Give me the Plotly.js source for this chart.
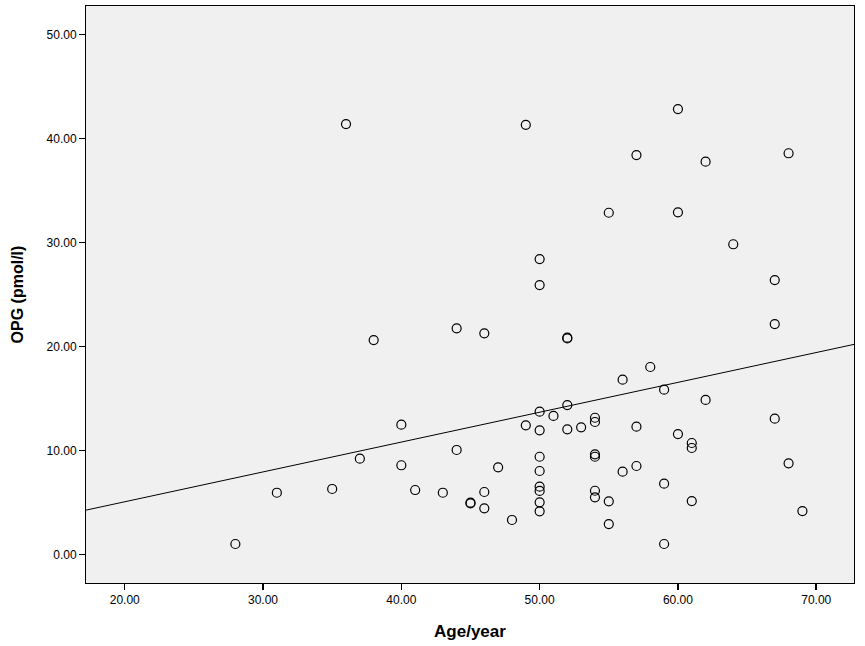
<!DOCTYPE html>
<html>
<head>
<meta charset="utf-8">
<script src="https://cdn.plot.ly/plotly-3.0.1.min.js"></script>
<style>html,body{margin:0;padding:0;background:#fff;}#chart{width:865px;height:646px;}</style>
</head>
<body>
<div id="chart"></div>
<script>
// Age (years)
const age = [28,31,35,36,37,38,40,40,41,43,44,44,45,45,46,46,46,47,48,49,49,
  50,50,50,50,50,50,50,50,50,50,51,52,52,52,52,53,54,54,54,54,54,54,
  55,55,55,56,56,57,57,57,58,59,59,59,60,60,60,61,61,61,62,62,64,67,67,67,68,68,69];
// OPG (pmol/l)
const opg = [1.03,5.96,6.32,41.41,9.23,20.64,12.5,8.6,6.22,5.96,21.77,10.07,4.94,5.0,21.29,6.03,4.46,8.4,3.34,41.33,12.44,
  28.43,25.93,13.75,11.96,9.42,8.05,6.54,6.13,5.04,4.17,13.34,20.87,20.8,14.39,12.06,12.25,13.17,12.76,9.65,9.42,6.15,5.52,
  32.88,5.13,2.95,16.83,7.98,38.43,12.31,8.53,18.05,15.87,6.83,1.03,42.85,32.92,11.6,10.74,10.26,5.16,37.79,14.88,29.85,26.41,22.18,13.08,38.6,8.79,4.2];
// Fit line
const fitIntercept = -0.65;
const fitSlope = 0.287;
const xTicks = [20,30,40,50,60,70];
const yTicks = [0,10,20,30,40,50];
const xRange = [17.2, 72.73];
const yRange = [-2.72, 52.76];

const fitX = [xRange[0], xRange[1]];
const fitY = fitX.map(v => fitIntercept + fitSlope * v);

const traces = [
  {x: fitX, y: fitY, mode: 'lines', type: 'scatter', line: {color: '#000', width: 1}, hoverinfo: 'skip'},
  {x: age, y: opg, mode: 'markers', type: 'scatter',
   marker: {symbol: 'circle-open', size: 9, color: '#000', line: {width: 1.2, color: '#000'}}}
];

const layout = {
  width: 865, height: 646,
  margin: {l: 86, r: 11, t: 6, b: 63},
  paper_bgcolor: '#ffffff',
  plot_bgcolor: '#f0f0f0',
  showlegend: false,
  font: {family: 'Liberation Sans, Arial, sans-serif', color: '#000'},
  xaxis: {
    range: xRange, tickvals: xTicks, ticktext: xTicks.map(v => v.toFixed(2)),
    showgrid: false, zeroline: false, showline: true, linecolor: '#000', linewidth: 1, mirror: true,
    ticks: 'outside', ticklen: 6, tickwidth: 1.5, tickcolor: '#000',
    tickfont: {size: 12, family: 'Liberation Sans Narrow, Liberation Sans, Arial, sans-serif'},
    title: {text: '<b>Age/year</b>', font: {size: 17, family: 'Liberation Sans Narrow, Liberation Sans, Arial'}, standoff: 18}
  },
  yaxis: {
    range: yRange, tickvals: yTicks, ticktext: yTicks.map(v => v.toFixed(2)),
    showgrid: false, zeroline: false, showline: true, linecolor: '#000', linewidth: 1, mirror: true,
    ticks: 'outside', ticklen: 6, tickwidth: 1.5, tickcolor: '#000',
    tickfont: {size: 12},
    title: {text: '<b>OPG (pmol/l)</b>', font: {size: 16}, standoff: 18}
  }
};

Plotly.newPlot('chart', traces, layout, {displayModeBar: false, staticPlot: true});
</script>
</body>
</html>
